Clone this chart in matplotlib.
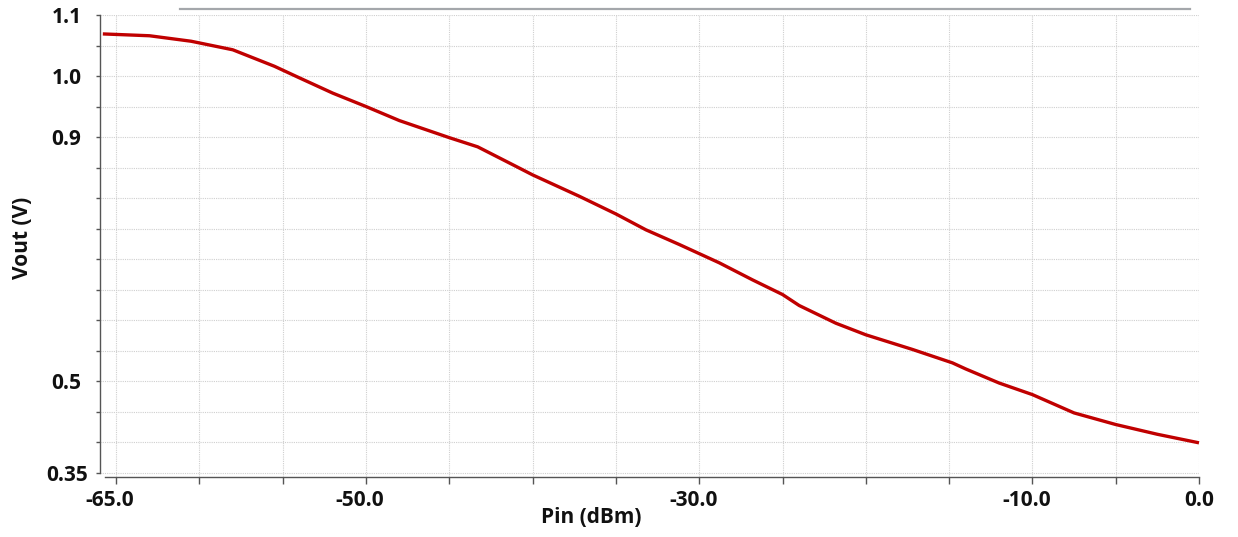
import matplotlib
matplotlib.use("Agg")
import matplotlib.pyplot as plt
import matplotlib.transforms as mtransforms
from matplotlib.lines import Line2D

# Output voltage versus input power
pin_dbm = [-65.8, -63.0, -60.5, -58.0, -55.5, -54.0, -52.0, -50.0, -48.0, -45.0,
           -43.3, -41.0, -40.0, -37.2, -35.0, -33.2, -31.2, -30.0, -28.8, -26.8,
           -25.0, -24.0, -21.8, -20.0, -17.2, -14.8, -14.0, -12.0, -10.0, -7.5,
           -5.0, -2.5, 0.0]
vout = [1.069, 1.066, 1.057, 1.043, 1.016, 0.997, 0.972, 0.950, 0.927, 0.899,
        0.884, 0.852, 0.838, 0.803, 0.774, 0.748, 0.724, 0.709, 0.694, 0.666,
        0.642, 0.624, 0.595, 0.576, 0.552, 0.530, 0.520, 0.497, 0.478, 0.448,
        0.429, 0.413, 0.399]

x_ticks = [-65, -60, -55, -50, -45, -40, -35, -30, -25, -20, -15, -10, -5, 0]
x_labelled = {-65: "-65.0", -50: "-50.0", -30: "-30.0", -10: "-10.0", 0: "0.0"}
y_ticks = [1.1, 1.05, 1.0, 0.95, 0.9, 0.85, 0.8, 0.75, 0.7, 0.65, 0.6, 0.55,
           0.5, 0.45, 0.4, 0.35]
y_labelled = {1.1: "1.1", 1.0: "1.0", 0.9: "0.9", 0.5: "0.5", 0.35: "0.35"}

plt.rcParams["font.family"] = ["Open Sans", "DejaVu Sans"]
plt.rcParams["axes.unicode_minus"] = False

W, H = 1238, 537
FS = 15
fig = plt.figure(figsize=(W / 100, H / 100), dpi=100)
ax = fig.add_axes([100 / W, 1 - 477 / H, 1099 / W, 462 / H])

ax.plot(pin_dbm, vout, color="#c00000", linewidth=2.4, solid_joinstyle="round",
        solid_capstyle="butt", clip_on=False, zorder=3)

ax.set_xlim(-65.97, 0.0)
ax.set_ylim(0.343, 1.1)

ax.set_xticks(x_ticks)
ax.set_xticklabels([x_labelled.get(t, "") for t in x_ticks])
ax.set_yticks(y_ticks)
ax.set_yticklabels([y_labelled.get(round(t, 2), "") for t in y_ticks])

ax.grid(True, color="#cfcfcf", linestyle=(0, (1, 1)), linewidth=0.8, zorder=0)

for side in ("top", "right"):
    ax.spines[side].set_visible(False)
for side in ("left", "bottom"):
    ax.spines[side].set_color("#555555")
    ax.spines[side].set_linewidth(1.0)
ax.spines["left"].set_bounds(0.35, 1.1)
ax.spines["bottom"].set_bounds(-65.65, 0.0)

ax.tick_params(axis="y", length=3, width=1, color="#555555", pad=21,
               labelsize=FS, labelcolor="#111111")
ax.tick_params(axis="x", length=5, width=1, color="#555555", pad=4,
               labelsize=FS, labelcolor="#111111")
for lab in ax.get_yticklabels():
    lab.set_fontweight("bold")
    lab.set_horizontalalignment("center")

shift = mtransforms.ScaledTranslation(-6 / 100, 0, fig.dpi_scale_trans)
for lab in ax.get_xticklabels():
    lab.set_fontweight("bold")
    if lab.get_text().startswith("-"):
        lab.set_transform(lab.get_transform() + shift)

ax.set_xlabel("Pin (dBm)", fontsize=FS, fontweight="bold", color="#111111")
ax.set_ylabel("Vout (V)", fontsize=FS, fontweight="bold", color="#111111")
ax.xaxis.set_label_coords(0.447, -0.066)
ax.yaxis.set_label_coords(-0.061, 0.517)

# thin rule above the plot area
fig.add_artist(Line2D([180 / W, 1190 / W], [1 - 9 / H, 1 - 9 / H],
                      color="#a4a7ab", linewidth=1.6))

fig.savefig("out.png", dpi=100)
